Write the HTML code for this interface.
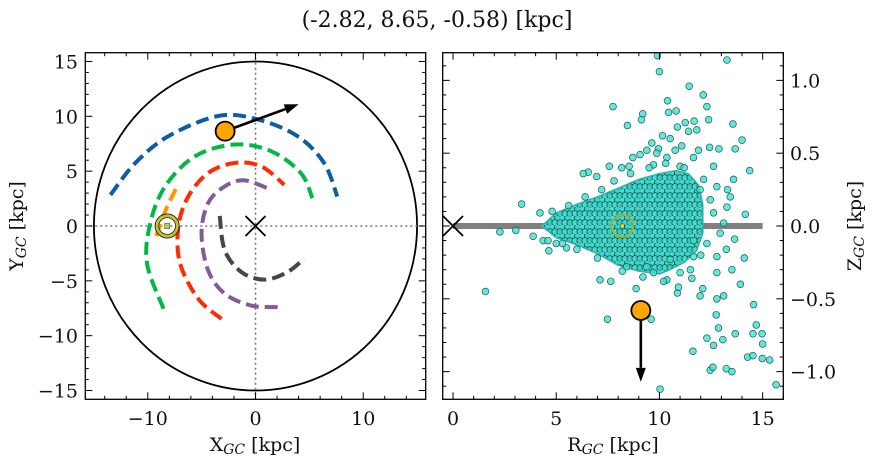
<!DOCTYPE html>
<html><head><meta charset="utf-8"><style>
body{margin:0;background:#fff;width:874px;height:464px;overflow:hidden}
svg text{font-family:"DejaVu Serif","Liberation Serif",serif;fill:#111}
</style></head><body>
<svg id="fig" width="874" height="464" xmlns="http://www.w3.org/2000/svg">
<defs>
<pattern id="dots" width="10" height="9" patternUnits="userSpaceOnUse">
<rect width="10" height="9" fill="#2fb3aa"/>
<circle cx="2.5" cy="2.2" r="3.1" fill="#45dccf" stroke="#14534e" stroke-width="0.8"/>
<circle cx="7.5" cy="2.2" r="3.1" fill="#3fd2c6" stroke="#14534e" stroke-width="0.8"/>
<circle cx="0" cy="6.7" r="3.1" fill="#3ccfc3" stroke="#14534e" stroke-width="0.8"/>
<circle cx="5" cy="6.7" r="3.1" fill="#45dccf" stroke="#14534e" stroke-width="0.8"/>
<circle cx="10" cy="6.7" r="3.1" fill="#3ccfc3" stroke="#14534e" stroke-width="0.8"/>
</pattern>
<clipPath id="clipR"><rect x="442.7" y="52.7" width="340.6" height="346.6"/></clipPath>
</defs>
<text x="437" y="27" font-size="22" text-anchor="middle">(-2.82, 8.65, -0.58) [kpc]</text>
<g id="left"></g>
<g id="right"></g>
</svg>
<script>
// ---- Left panel data (X_GC, Y_GC kpc) ----
const armBlueX=[-13.46,-11.15,-8.08,-3.47,0.21,3.90,6.36,7.59];
const armBlueY=[2.84,5.75,8.19,10.03,9.72,8.19,5.75,2.69];
const armGreenX=[-8.54,-10.07,-9.77,-8.39,-5.62,-1.94,1.45,4.21,5.28];
const armGreenY=[-7.55,-3.42,0.25,3.61,6.36,7.43,6.82,4.83,2.54];
const armOrangeX=[-7.40,-8.4,-9.24];
const armOrangeY=[3.37,1.3,-0.98];
const armRedX=[-3.16,-5.32,-7.00,-7.16,-6.24,-4.40,-1.94,0.53,2.67];
const armRedY=[-8.47,-6.63,-3.42,-0.06,2.69,4.83,5.75,5.44,3.76];
const armPurpleX=[2.06,-0.40,-2.86,-4.40,-5.01,-4.40,-2.86,-1.01,1.45];
const armPurpleY=[-7.40,-7.25,-6.17,-4.04,-0.67,2.08,3.61,4.16,3.30];
const armGrayX=[-3.32,-2.86,-1.32,0.83,2.98,4.52];
const armGrayY=[0.92,-2.20,-4.19,-4.89,-4.19,-2.97];
const objX=-2.82, objY=8.65, objZ=-0.58;
const velEndX=4.0, velEndY=11.1;
const sunX=-8.2, sunY=0, sunR=8.2, sunZ=0;
const xTicksL=[-10,0,10];
const yTicksL=[-15,-10,-5,0,5,10,15];
// ---- Right panel data (R_GC, Z_GC) ----
const xTicksR=[0,5,10,15];
const yTicksR=[-1.0,-0.5,0.0,0.5,1.0];
const cloudR=[4.3,5,6,7,8,9,10,10.8,11.4,11.9,12.1,12.1,11.8,11.2,10.5,10,9,8,7,6,5];
const cloudZ=[0,0.09,0.15,0.2,0.26,0.32,0.36,0.38,0.36,0.28,0.15,-0.05,-0.17,-0.25,-0.3,-0.33,-0.31,-0.27,-0.19,-0.13,-0.08];
const starR=[9.90,10.0,13.27,11.44,12.12,10.39,7.75,10.44,10.81,12.3,12.38,13.56,9.19,8.45,9.13,11.25,11.68,10.87,11.41,11.81,10.15,10.52,14.0,9.63,9.95,11.08,12.43,12.88,13.67,11.89,9.06,8.71,6.55,6.96,7.57,8.17,8.53,14.37,13.59,13.3,14.16,3.32,13.11,13.64,2.27,3.04,3.88,4.64,5.5,1.57,13.24,14.11,13.51,13.92,11.57,11.97,13.11,12.78,10.87,8.87,7.64,7.48,9.6,14.56,12.75,12.86,13.67,12.3,12.62,13.07,14.69,14.53,14.97,15.0,11.62,14.27,14.53,14.98,15.34,12.46,12.59,13.24,13.51,15.65,10.03,10.92,12.1,12.78,11.0,10.36,9.71,7.12,12.14,12.78,13.43,12.46,13.27,12.62,12.94,12.3,12.78,11.65,11.65,11.97,11.0,10.36,9.71,9.87,10.76,11.65,12.62,9.39,6.31,4.21,4.37,5.0,8.41,9.39,10.52,7.8,8.6,9.5,10.3,11.2,7.2,6.4,5.6,4.8,8.2,9.2,10.2,11.5,12.0,6.0,7.0,4.6,5.3];
const starZ=[1.17,1.06,1.14,0.96,0.90,0.86,0.82,0.78,0.79,0.82,0.73,0.70,0.77,0.69,0.73,0.71,0.72,0.68,0.65,0.66,0.62,0.60,0.59,0.57,0.53,0.55,0.54,0.53,0.53,0.52,0.49,0.47,0.37,0.34,0.41,0.40,0.41,0.38,0.32,0.25,0.08,0.15,0.02,-0.09,-0.04,-0.03,-0.07,-0.17,-0.15,-0.45,-0.16,-0.22,-0.30,-0.40,-0.36,-0.48,-0.48,-0.50,-0.46,-0.43,-0.38,-0.64,-0.64,-0.54,-0.61,-0.70,-0.74,-0.77,-0.82,-0.78,-0.68,-0.74,-0.74,-0.81,-0.86,-0.90,-0.89,-0.91,-0.92,-0.99,-0.97,-0.98,-1.00,-1.09,-1.12,-0.42,-0.43,-0.32,-0.32,-0.37,-0.32,-0.37,0.32,0.27,0.2,0.18,0.13,0.09,-0.05,-0.12,-0.21,-0.21,-0.1,0.25,0.41,0.47,0.42,0.5,0.52,0.47,0.41,0.52,0.36,0.09,-0.10,-0.12,-0.28,-0.28,-0.23,0.31,0.36,0.4,0.43,0.4,0.25,0.2,0.14,0.1,-0.31,-0.35,-0.38,-0.3,-0.2,-0.16,-0.22,-0.1,-0.12];

const NS="http://www.w3.org/2000/svg";
function mk(parent,tag,attrs){const e=document.createElementNS(NS,tag);for(const k in attrs)e.setAttribute(k,attrs[k]);parent.appendChild(e);return e;}
const fmt=v=>(v<0?"\u2212":"")+Math.abs(v);
const fmt1=v=>(v<0?"\u2212":"")+Math.abs(v).toFixed(1);

const L={x0:85.3,x1:425.7,y0:52.7,y1:399.3,xmin:-15.8,xmax:15.8,ymin:-15.8,ymax:15.8};
const lx=v=>L.x0+(v-L.xmin)/(L.xmax-L.xmin)*(L.x1-L.x0);
const ly=v=>L.y1-(v-L.ymin)/(L.ymax-L.ymin)*(L.y1-L.y0);
const gL=document.getElementById('left');



function smoothPath(xs,ys,fx,fy){
  const p=xs.map((x,i)=>[fx(x),fy(ys[i])]);
  let d=`M${p[0][0]},${p[0][1]}`;
  for(let i=0;i<p.length-1;i++){
    const p0=p[Math.max(i-1,0)],p1=p[i],p2=p[i+1],p3=p[Math.min(i+2,p.length-1)];
    const c1=[p1[0]+(p2[0]-p0[0])/6,p1[1]+(p2[1]-p0[1])/6];
    const c2=[p2[0]-(p3[0]-p1[0])/6,p2[1]-(p3[1]-p1[1])/6];
    d+=` C${c1[0]},${c1[1]} ${c2[0]},${c2[1]} ${p2[0]},${p2[1]}`;
  }
  return d;
}
let c=mk(gL,'ellipse',{cx:lx(0),cy:ly(0),rx:lx(15)-lx(0),ry:ly(0)-ly(15),fill:'none',stroke:'#000','stroke-width':1.8});


let dl=mk(gL,'line',{x1:lx(0),x2:lx(0),y1:L.y0,y2:L.y1,stroke:'#777','stroke-width':1.6,'stroke-dasharray':'2,3'});


dl=mk(gL,'line',{x1:L.x0,x2:L.x1,y1:ly(0),y2:ly(0),stroke:'#777','stroke-width':1.6,'stroke-dasharray':'2,3'});


const arms=[[armBlueX,armBlueY,'#0C5DA5','arm-blue'],[armGreenX,armGreenY,'#00B945','arm-green'],[armOrangeX,armOrangeY,'#FF9500','arm-orange'],[armRedX,armRedY,'#FF2C00','arm-red'],[armPurpleX,armPurpleY,'#845B97','arm-purple'],[armGrayX,armGrayY,'#474747','arm-gray']];
for(const a of arms){
  const p=mk(gL,'path',{d:smoothPath(a[0],a[1],lx,ly),fill:'none',stroke:a[2],'stroke-width':4,'stroke-dasharray':'13,6'});
  
  
}
function xMarker(g,cx,cy,s,name){
  const m=mk(g,'path',{d:`M${cx-s},${cy-s}L${cx+s},${cy+s}M${cx-s},${cy+s}L${cx+s},${cy-s}`,stroke:'#000','stroke-width':1.8,fill:'none'});
  
  
}
xMarker(gL,lx(0),ly(0),10,'galactic-center-marker');
function sunMarker(g,cx,cy,name){
  const s=mk(g,'g',{});
  
  
  mk(s,'circle',{cx,cy,r:12,fill:'none',stroke:'#222','stroke-width':1});
  mk(s,'circle',{cx,cy,r:10,fill:'none',stroke:'#c4c42a','stroke-width':2.6});
  mk(s,'circle',{cx,cy,r:8.4,fill:'none',stroke:'#222','stroke-width':0.8});
  mk(s,'rect',{x:cx-2.5,y:cy-2.5,width:5,height:5,fill:'#b8d83a',stroke:'#444','stroke-width':0.6});
}
sunMarker(gL,lx(sunX),ly(sunY),'sun-marker-left');
function arrow(g,x1,y1,x2,y2,name){
  const a=mk(g,'g',{});
  
  
  const ang=Math.atan2(y2-y1,x2-x1),h=14,w=5;
  const bx=x2-h*Math.cos(ang),by=y2-h*Math.sin(ang);
  mk(a,'line',{x1,y1,x2:bx,y2:by,stroke:'#000','stroke-width':2.6});
  mk(a,'polygon',{points:`${x2},${y2} ${bx+w*Math.sin(ang)},${by-w*Math.cos(ang)} ${bx-w*Math.sin(ang)},${by+w*Math.cos(ang)}`,fill:'#000'});
}
arrow(gL,lx(objX),ly(objY),lx(velEndX),ly(velEndY),'velocity-arrow-left');
let o=mk(gL,'circle',{cx:lx(objX),cy:ly(objY),r:9.5,fill:'#FFA500',stroke:'#000','stroke-width':1.8});



function frame(g,A,name){
  const r=mk(g,'rect',{x:A.x0,y:A.y0,width:A.x1-A.x0,height:A.y1-A.y0,fill:'none',stroke:'#000','stroke-width':1.3});
  
  
}
frame(gL,L,'left-axes-frame');
function ticks(g,A,fx,fy,xmaj,xmin,ymaj,ymin){
  const t=mk(g,'g',{stroke:'#000','stroke-width':1});
  
  
  for(const v of xmaj){const x=fx(v);mk(t,'line',{x1:x,x2:x,y1:A.y1,y2:A.y1-7});mk(t,'line',{x1:x,x2:x,y1:A.y0,y2:A.y0+7});}
  for(const v of xmin){const x=fx(v);mk(t,'line',{x1:x,x2:x,y1:A.y1,y2:A.y1-3.5});mk(t,'line',{x1:x,x2:x,y1:A.y0,y2:A.y0+3.5});}
  for(const v of ymaj){const y=fy(v);mk(t,'line',{x1:A.x0,x2:A.x0+7,y1:y,y2:y});mk(t,'line',{x1:A.x1,x2:A.x1-7,y1:y,y2:y});}
  for(const v of ymin){const y=fy(v);mk(t,'line',{x1:A.x0,x2:A.x0+3.5,y1:y,y2:y});mk(t,'line',{x1:A.x1,x2:A.x1-3.5,y1:y,y2:y});}
}
const lxMinor=[],lyMinor=[];
for(let v=-14;v<=14;v+=2)if(v%10)lxMinor.push(v);
for(let v=-15;v<=15;v++)if(v%5)lyMinor.push(v);
ticks(gL,L,lx,ly,xTicksL,lxMinor,yTicksL,lyMinor);
for(const v of xTicksL){const t=mk(gL,'text',{x:lx(v),y:425,'font-size':19,'text-anchor':'middle'});t.textContent=fmt(v);
  }
for(const v of yTicksL){const t=mk(gL,'text',{x:78,y:ly(v)+7,'font-size':19,'text-anchor':'end'});t.textContent=fmt(v);
  }
let xl=mk(gL,'text',{x:255,y:451,'font-size':19,'text-anchor':'middle'});
xl.innerHTML='X<tspan font-size="14" font-style="italic" dy="3">GC</tspan><tspan dy="-3"> [kpc]</tspan>';

let yl=mk(gL,'text',{x:0,y:0,'font-size':19,'text-anchor':'middle',transform:'translate(23,226) rotate(-90)'});
yl.innerHTML='Y<tspan font-size="14" font-style="italic" dy="3">GC</tspan><tspan dy="-3"> [kpc]</tspan>';


// Right axes
const R={x0:442.7,x1:783.3,y0:52.7,y1:399.3,xmin:-0.5,xmax:16,ymin:-1.19,ymax:1.19};
const rx=v=>R.x0+(v-R.xmin)/(R.xmax-R.xmin)*(R.x1-R.x0);
const ry=v=>R.y1-(v-R.ymin)/(R.ymax-R.ymin)*(R.y1-R.y0);
const gR=document.getElementById('right');


const gl=mk(gR,'line',{x1:rx(0),x2:rx(15),y1:ry(0),y2:ry(0),stroke:'#808080','stroke-width':6});


const dat=mk(gR,'g',{'clip-path':'url(#clipR)'});


const cloud=mk(dat,'polygon',{points:cloudR.map((r,i)=>`${rx(r)},${ry(cloudZ[i])}`).join(' '),fill:'url(#dots)',stroke:'#2fb3aa','stroke-width':1.5,'stroke-linejoin':'round'});


for(let i=0;i<starR.length;i++){
  const p=mk(dat,'circle',{cx:rx(starR[i]),cy:ry(starZ[i]),r:3.4,fill:'#40E0D0','fill-opacity':0.8,stroke:'#1a5a55','stroke-width':0.7});
  
  
}
xMarker(gR,rx(0),ry(0),10,'galactic-center-marker-right');
const sr=mk(gR,'g',{});


mk(sr,'circle',{cx:rx(sunR),cy:ry(sunZ),r:11,fill:'none',stroke:'#b0b020','stroke-width':1.8});
mk(sr,'rect',{x:rx(sunR)-2,y:ry(sunZ)-2,width:4,height:4,fill:'#d8e040',stroke:'#444','stroke-width':0.5});
const objR=Math.hypot(objX,objY);
arrow(gR,rx(objR),ry(objZ),rx(objR),ry(-1.07),'velocity-arrow-right');
o=mk(gR,'circle',{cx:rx(objR),cy:ry(objZ),r:9.5,fill:'#FFA500',stroke:'#000','stroke-width':1.8});


frame(gR,R,'right-axes-frame');
const rxMinor=[],ryMinor=[];
for(let v=0;v<=16;v++)if(v%5)rxMinor.push(v);
for(let k=-11;k<=11;k++)if(k%5)ryMinor.push(k/10);
ticks(gR,R,rx,ry,xTicksR,rxMinor,yTicksR,ryMinor);
for(const v of xTicksR){const t=mk(gR,'text',{x:rx(v),y:425,'font-size':19,'text-anchor':'middle'});t.textContent=fmt(v);
  }
for(const v of yTicksR){const t=mk(gR,'text',{x:790,y:ry(v)+7,'font-size':19,'text-anchor':'start'});t.textContent=fmt1(v);
  }
xl=mk(gR,'text',{x:613,y:451,'font-size':19,'text-anchor':'middle'});
xl.innerHTML='R<tspan font-size="14" font-style="italic" dy="3">GC</tspan><tspan dy="-3"> [kpc]</tspan>';

yl=mk(gR,'text',{x:0,y:0,'font-size':19,'text-anchor':'middle',transform:'translate(861,226) rotate(-90)'});
yl.innerHTML='Z<tspan font-size="14" font-style="italic" dy="3">GC</tspan><tspan dy="-3"> [kpc]</tspan>';

</script>
</body></html>
